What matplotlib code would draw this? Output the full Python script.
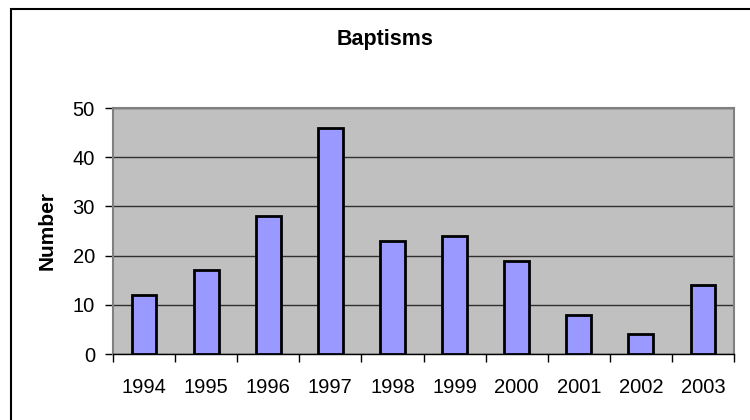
import matplotlib.pyplot as plt
from matplotlib.patches import Rectangle
from matplotlib.ticker import FixedLocator, NullFormatter, FixedFormatter

years = ['1994', '1995', '1996', '1997', '1998', '1999', '2000', '2001', '2002', '2003']
baptisms = [12, 17, 28, 46, 23, 24, 19, 8, 4, 14]
y_ticks = [0, 10, 20, 30, 40, 50]

plt.rcParams['font.family'] = ['Liberation Sans', 'DejaVu Sans']

fig = plt.figure(figsize=(7.5, 4.2), dpi=100)
ax = fig.add_axes([113 / 750, 1 - 354 / 420, (734 - 113) / 750, (354 - 108) / 420])

# outer chart frame (only left/top edges land inside the image)
fig.patches.append(Rectangle((11 / 750, -0.1), 1.2, 1 - 9 / 420 + 0.1, transform=fig.transFigure,
                             fill=False, edgecolor='black', linewidth=1.5))

ax.set_facecolor('#c0c0c0')
xs = list(range(len(years)))
ax.bar(xs, baptisms, width=0.4, color='#9999ff', edgecolor='black', linewidth=2, zorder=3)

ax.set_xlim(-0.5, len(years) - 0.5)
ax.set_ylim(0, 50)
ax.set_yticks(y_ticks)
ax.yaxis.grid(True, color='#303030', linewidth=1, zorder=0)
ax.set_axisbelow(True)

# category ticks sit between the bars, labels in the middle
ax.xaxis.set_major_locator(FixedLocator([i - 0.5 for i in range(len(years) + 1)]))
ax.xaxis.set_major_formatter(NullFormatter())
ax.xaxis.set_minor_locator(FixedLocator(xs))
ax.xaxis.set_minor_formatter(FixedFormatter(years))
ax.tick_params(axis='x', which='major', direction='out', length=6, width=1, color='black')
ax.tick_params(axis='x', which='minor', length=0, pad=17, labelsize=14.5)
ax.tick_params(axis='y', direction='out', length=6, width=1, color='black', labelsize=14.5, pad=7)

for side in ('top', 'right', 'left'):
    ax.spines[side].set_color('#808080')
    ax.spines[side].set_linewidth(1.5)
ax.spines['bottom'].set_color('black')
ax.spines['bottom'].set_linewidth(1)

ax.set_ylabel('Number', fontsize=15, fontweight='bold')
ax.yaxis.set_label_coords(-(113 - 57) / 621, 0.5)
fig.text(385 / 750, 1 - 40 / 420, 'Baptisms', ha='center', va='center', fontsize=15.5, fontweight='bold')

fig.savefig('out.png', dpi=100)
